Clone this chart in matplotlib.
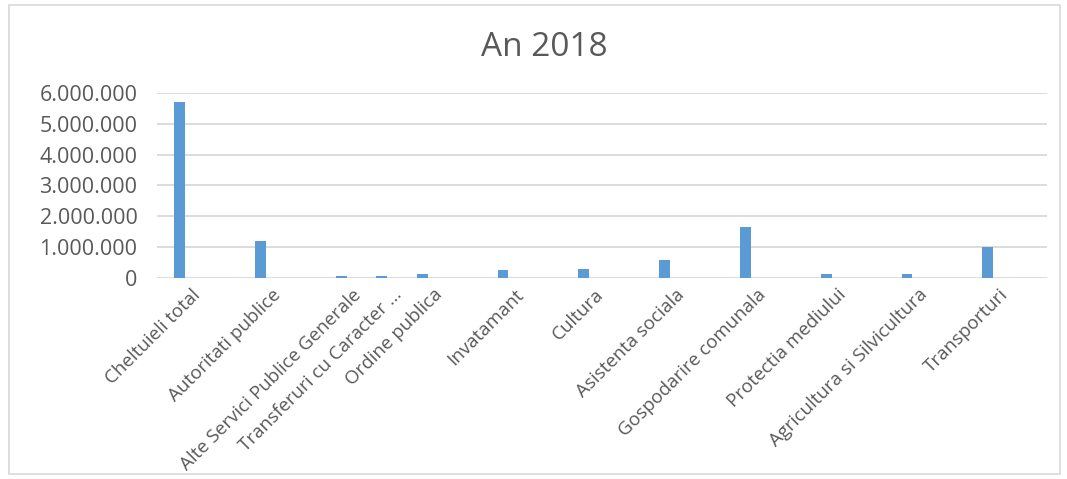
import matplotlib.pyplot as plt
import numpy as np
from matplotlib.patches import Rectangle
from matplotlib.ticker import FuncFormatter
import matplotlib.transforms as mtransforms

categories = [
    "Cheltuieli total",
    "Autoritati publice",
    "Alte Servici Publice Generale",
    "Transferuri cu Caracter ...",
    "Ordine publica",
    "Invatamant",
    "Cultura",
    "Asistenta sociala",
    "Gospodarire comunala",
    "Protectia mediului",
    "Agricultura si Silvicultura",
    "Transporturi",
]
values = [5700000, 1210000, 60000, 60000, 130000, 260000, 290000,
          570000, 1650000, 130000, 130000, 990000]
title = "An 2018"

# slot layout: "Transferuri" sits half way between its neighbours
slots = np.array([0, 1, 2, 2.5, 3, 4, 5, 6, 7, 8, 9, 10], dtype=float)

text_color = "#595959"
grid_color = "#D9D9D9"
bar_color = "#5B9BD5"

plt.rcParams["font.family"] = ["Open Sans", "DejaVu Sans"]

fig = plt.figure(figsize=(10.67, 4.79), dpi=100)
fig.patches.append(Rectangle((0.008, 0.01), 0.985, 0.98, transform=fig.transFigure,
                             fill=False, edgecolor=grid_color, linewidth=1.2))

ax = fig.add_axes([0.147, 0.420, 0.834, 0.386])
ax.bar(slots, values, width=0.135, color=bar_color, zorder=3)

ax.set_ylim(0, 6000000)
ax.set_yticks(np.arange(0, 6000001, 1000000))
ax.yaxis.set_major_formatter(FuncFormatter(lambda v, p: f"{int(v):,}".replace(",", ".")))
ax.set_xlim(-0.285, 10.73)
ax.grid(axis="y", color=grid_color, linewidth=1.3, zorder=0)
for s in ax.spines.values():
    s.set_visible(False)
ax.tick_params(axis="both", length=0, colors=text_color)
ax.tick_params(axis="y", labelsize=15.5, pad=14)

ax.set_xticks(slots)
ax.set_xticklabels(categories, rotation=45, ha="right", rotation_mode="anchor",
                   fontsize=13.5, color=text_color)
offset = mtransforms.ScaledTranslation(11 / 100, -3 / 100, fig.dpi_scale_trans)
for lbl in ax.get_xticklabels():
    lbl.set_transform(lbl.get_transform() + offset)

fig.text(0.51, 0.9, title, ha="center", va="center", fontsize=24, color=text_color)

fig.savefig("out.png", dpi=100)
